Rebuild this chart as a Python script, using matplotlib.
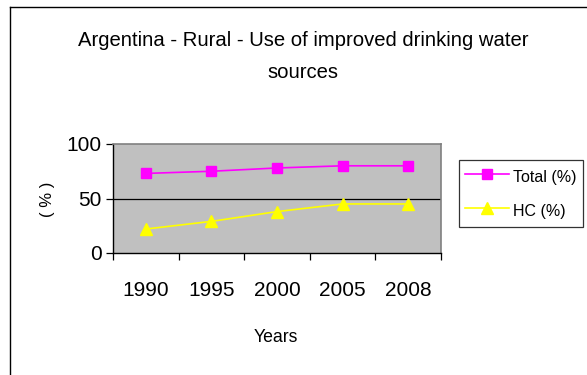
import matplotlib
matplotlib.use("Agg")
import matplotlib.pyplot as plt
from matplotlib.lines import Line2D

plt.rcParams['font.family'] = ['Liberation Sans', 'DejaVu Sans']

years = ["1990", "1995", "2000", "2005", "2008"]
total_pct = [73, 75, 78, 80, 80]
hc_pct = [22, 29, 38, 45, 45]
y_ticks = [0, 50, 100]

W, H = 587, 375
fig = plt.figure(figsize=(W / 100, H / 100), dpi=100)
fig.patch.set_facecolor('white')

# outer chart frame (left and top edges visible)
fig.add_artist(Line2D([10 / W, 10 / W], [0, 1 - 7 / H], transform=fig.transFigure,
                      color='black', lw=1.0))
fig.add_artist(Line2D([10 / W, 1], [1 - 7 / H, 1 - 7 / H], transform=fig.transFigure,
                      color='black', lw=1.0))

ax = fig.add_axes([113 / W, 1 - 253 / H, (441 - 113) / W, (253 - 144) / H])
ax.set_facecolor('#C0C0C0')

x = list(range(len(years)))
ax.plot(x, total_pct, color='#FF00FF', lw=1.2, marker='s', markersize=6.5,
        label='Total (%)', clip_on=False, zorder=3)
ax.plot(x, hc_pct, color='#FFFF00', lw=1.2, marker='^', markersize=8,
        label='HC (%)', clip_on=False, zorder=3)

ax.set_xlim(-0.5, len(years) - 0.5)
ax.set_ylim(0, 100)
ax.set_yticks(y_ticks)
ax.set_yticklabels([str(v) for v in y_ticks], fontsize=15)
ax.axhline(50, color='black', lw=0.9, zorder=1)

# category ticks sit between categories; labels at category centers
ax.set_xticks([i - 0.5 for i in range(len(years) + 1)])
ax.set_xticklabels([])
ax.set_xticks(x, minor=True)
ax.set_xticklabels(years, minor=True, fontsize=15)
ax.tick_params(axis='x', which='minor', length=0, pad=20.5)
ax.tick_params(axis='x', which='major', length=5, width=0.9, direction='out')
ax.tick_params(axis='y', length=5, width=0.9, direction='out', pad=3)

for side in ['top', 'right']:
    ax.spines[side].set_color('#808080')
    ax.spines[side].set_linewidth(1.2)
for side in ['left', 'bottom']:
    ax.spines[side].set_color('black')
    ax.spines[side].set_linewidth(1.0)

fig.text(276 / W, 1 - 342 / H, 'Years', ha='center', va='baseline', fontsize=12.7)
fig.text(47 / W, 1 - 199 / H, '( % )', ha='center', va='center', rotation=90,
         fontsize=12)

fig.text(303 / W, 1 - 46 / H, 'Argentina - Rural - Use of improved drinking water',
         ha='center', va='baseline', fontsize=14.6)
fig.text(303 / W, 1 - 78 / H, 'sources', ha='center', va='baseline', fontsize=14.6)

leg = fig.legend(loc='upper left', bbox_to_anchor=(459 / W, 1 - 160 / H),
                 bbox_transform=fig.transFigure, fontsize=11.5, frameon=True,
                 fancybox=False, edgecolor='black', handlelength=2.7,
                 handleheight=1.6, handletextpad=0.3, borderpad=0.4,
                 labelspacing=0.84, borderaxespad=0)
leg.get_frame().set_linewidth(0.9)

fig.savefig('out.png', dpi=100)
